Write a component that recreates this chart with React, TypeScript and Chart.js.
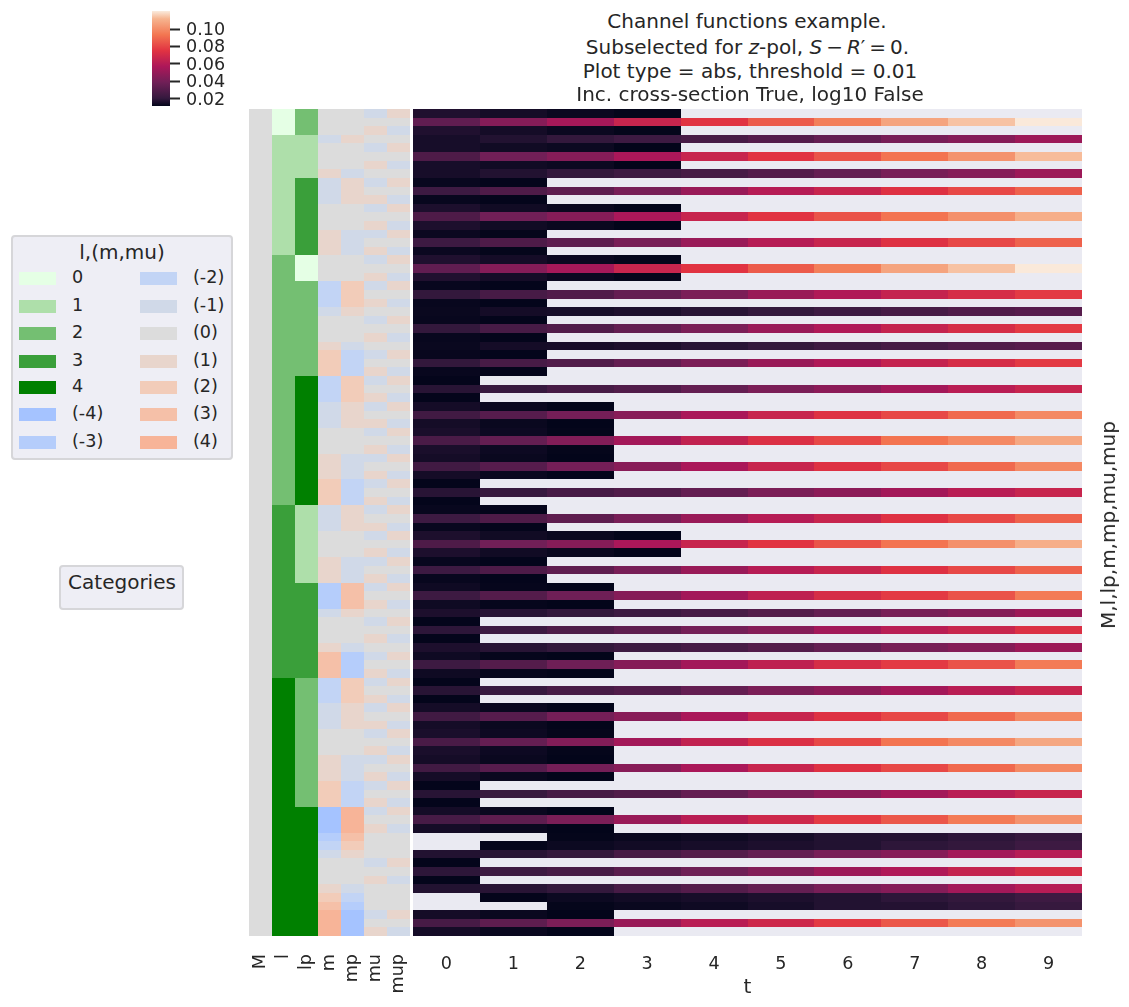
import React, { useEffect, useRef } from "react";
import { Chart, registerables } from "chart.js";

Chart.register(...registerables);

// ---------- data ----------
const tLabels = [0, 1, 2, 3, 4, 5, 6, 7, 8, 9];
const annotationLabels = ["M", "l", "lp", "m", "mp", "mu", "mup"];
const colorbarTicks = [0.02, 0.04, 0.06, 0.08, 0.1];
const titleLine1 = "Channel functions example.";
const titleLine3 = "Plot type = abs, threshold = 0.01";
const titleLine4 = "Inc. cross-section True, log10 False";
const rightLabel = "M,l,lp,m,mp,mu,mup";
const xLabel = "t";
const legendTitle = "l,(m,mu)";
const legendLabels1 = ["0", "1", "2", "3", "4", "(-4)", "(-3)"];
const legendLabels2 = ["(-2)", "(-1)", "(0)", "(1)", "(2)", "(3)", "(4)"];

const lColors = ["#e5ffe5", "#aedfaa", "#74bf72", "#3a9f3a", "#008000"];
const mColors = ["#a5c3ff", "#b5cdfb", "#c2d4f5", "#d0d9e8", "#dcdcdc", "#e8d5cc", "#f2ccb9", "#f5c0a8", "#f7b498"];
const legendColors1 = [...lColors, mColors[0], mColors[1]];
const legendColors2 = mColors.slice(2);

const vMin = 0.0113;
const vMax = 0.1208;
const rocketStops = [
  [0, 3, 5, 26],
  [0.083, 53, 25, 62],
  [0.25, 112, 31, 87],
  [0.417, 173, 23, 89],
  [0.583, 225, 51, 66],
  [0.75, 243, 118, 81],
  [0.917, 246, 180, 143],
  [1, 250, 235, 221],
];

const colM = [
  0,0,0,0,0,0,0,0,0,0,0,0,0,0,0,0,0,0,0,0,0,0,0,0,0,0,0,0,0,0,0,0,
  0,0,0,0,0,0,0,0,0,0,0,0,0,0,0,0,0,0,0,0,0,0,0,0,0,0,0,0,0,0,0,0,
  0,0,0,0,0,0,0,0,0,0,0,0,0,0,0,0,0,0,0,0,0,0,0,0,0,0,0,0,0,0,0,0,
];
const colL = [
  0,0,0,
  1,1,1,1,1,1,1,1,1,1,1,1,1,1,
  2,2,2,2,2,2,2,2,2,2,2,2,2,2,2,2,2,2,2,2,2,2,2,2,2,2,2,2,2,
  3,3,3,3,3,3,3,3,3,3,3,3,3,3,3,3,3,3,3,3,
  4,4,4,4,4,4,4,4,4,4,4,4,4,4,4,4,4,4,4,4,4,4,4,4,4,4,4,4,4,4,
];
const colLp = [
  2,2,2,
  1,1,1,1,1,
  3,3,3,3,3,3,3,3,3,
  0,0,0,
  2,2,2,2,2,2,2,2,2,2,2,
  4,4,4,4,4,4,4,4,4,4,4,4,4,4,4,
  1,1,1,1,1,1,1,1,1,
  3,3,3,3,3,3,3,3,3,3,3,
  2,2,2,2,2,2,2,2,2,2,2,2,2,2,2,
  4,4,4,4,4,4,4,4,4,4,4,4,4,4,4,
];
const colMm = [
  0,0,0,
  -1,0,0,0,1,
  -1,-1,-1,0,0,0,1,1,1,
  0,0,0,
  -2,-2,-2,-1,0,0,0,1,2,2,2,
  -2,-2,-2,-1,-1,-1,0,0,0,1,1,1,2,2,2,
  -1,-1,-1,0,0,0,1,1,1,
  -3,-3,-3,-1,0,0,0,1,3,3,3,
  -2,-2,-2,-1,-1,-1,0,0,0,1,1,1,2,2,2,
  -4,-4,-4,-3,-2,-1,0,0,0,1,2,3,4,4,4,
];
const colMp = [
  0,0,0,
  1,0,0,0,-1,
  1,1,1,0,0,0,-1,-1,-1,
  0,0,0,
  2,2,2,1,0,0,0,-1,-2,-2,-2,
  2,2,2,1,1,1,0,0,0,-1,-1,-1,-2,-2,-2,
  1,1,1,0,0,0,-1,-1,-1,
  3,3,3,1,0,0,0,-1,-3,-3,-3,
  2,2,2,1,1,1,0,0,0,-1,-1,-1,-2,-2,-2,
  4,4,4,3,2,1,0,0,0,-1,-2,-3,-4,-4,-4,
];
const colMu = [
  -1,0,1,
  0,-1,0,1,0,
  -1,0,1,-1,0,1,-1,0,1,
  -1,0,1,
  -1,0,1,0,-1,0,1,0,-1,0,1,
  -1,0,1,-1,0,1,-1,0,1,-1,0,1,-1,0,1,
  -1,0,1,-1,0,1,-1,0,1,
  -1,0,1,0,-1,0,1,0,-1,0,1,
  -1,0,1,-1,0,1,-1,0,1,-1,0,1,-1,0,1,
  -1,0,1,0,0,0,-1,0,1,0,0,0,-1,0,1,
];
const colMup = [
  1,0,-1,
  0,1,0,-1,0,
  1,0,-1,1,0,-1,1,0,-1,
  1,0,-1,
  1,0,-1,0,1,0,-1,0,1,0,-1,
  1,0,-1,1,0,-1,1,0,-1,1,0,-1,1,0,-1,
  1,0,-1,1,0,-1,1,0,-1,
  1,0,-1,0,1,0,-1,0,1,0,-1,
  1,0,-1,1,0,-1,1,0,-1,1,0,-1,1,0,-1,
  1,0,-1,0,0,0,1,0,-1,0,0,0,1,0,-1,
];

// value shapes, one per kind of row
const A = [0.034,0.045,0.055,0.066,0.075,0.086,0.096,0.107,0.114,0.1205];
const B = [0.028,0.039,0.045,0.056,0.066,0.075,0.084,0.093,0.102,0.113];
const B2 = [0.028,0.039,0.045,0.056,0.066,0.075,0.084,0.093,0.101,0.110];
const C = [0.015,0.017,0.020,0.023,0.026,0.030,0.035,0.041,0.045,0.052];
const D = [0.023,0.028,0.033,0.041,0.051,0.060,0.066,0.074,0.081,0.088];
const E = [0.020,0.026,0.029,0.035,0.042,0.051,0.058,0.065,0.071,0.077];
const F = [0.0125,0.0146,0.015,0.016,0.018,0.020,0.023,0.026,0.029,0.031];
const G = [0.018,0.021,0.026,0.029,0.035,0.042,0.047,0.054,0.061,0.066];
const H = [0.024,0.031,0.040,0.046,0.056,0.066,0.074,0.081,0.090,0.099];
const I = [0.027,0.035,0.044,0.054,0.064,0.073,0.081,0.093,0.099,0.108];
const J = [0.023,0.030,0.038,0.045,0.054,0.063,0.071,0.077,0.084,0.095];
const K = [0.016,0.018,0.020,0.023,0.026,0.030,0.035,0.041,0.045,0.052];
const L = [0.019,0.023,0.028,0.033,0.040,0.045,0.054,0.061,0.066,0.073];
const M = [0.026,0.033,0.042,0.051,0.061,0.068,0.077,0.085,0.095,0.102];
const N = [null,null,0.0116,0.0126,0.0135,0.015,0.017,0.0173,0.019,0.0206];
const O = [null,0.0115,0.013,0.014,0.015,0.016,0.017,0.019,0.020,0.023];
const P = [0.017,0.018,0.020,0.026,0.030,0.035,0.041,0.045,0.054,0.060];
const Q = [0.019,0.023,0.026,0.032,0.038,0.044,0.052,0.058,0.065,0.071];
const s4a = [0.0165,0.0145,0.0128,0.0116];
const s4b = [0.015,0.0138,0.013,0.0113];
const s4c = [0.016,0.0138,0.0125,0.0113];
const s3a = [0.0145,0.0126,0.0113];
const s3b = [0.0155,0.0132,0.0116];
const s3c = [0.0135,0.0119,0.0113];
const s2a = [0.0122,0.0115];
const s2b = [0.0128,0.0116];
const s1 = [0.0115];

const rowValues = [
  s4a,A,s4a,C,s4b,B,s4b,C,s2a,D,s2a,s4c,B2,s4c,s2b,D,s2b,
  s4a,A,s4a,s2a,E,s2a,F,s2a,E,s2a,F,s2a,E,s2a,
  s1,G,s1,s3a,H,s3a,s3b,I,s3b,s3a,H,s3a,s1,G,s1,
  s2a,D,s2a,s4c,B2,s4c,s2a,D,s2a,
  s3c,J,s3c,K,s1,L,s1,K,s3c,J,s3c,
  s1,G,s1,s3a,H,s3a,s3b,I,s3b,s3a,H,s3a,s1,G,s1,
  s3a,M,s3a,N,O,P,s1,Q,s1,P,O,N,s3a,M,s3a,
];

// ---------- helpers ----------
const FONT = "'DejaVu Sans'";
const TEXT = "#262626";
const TICK_SIZE = 17.6;
const LABEL_SIZE = 20;
const rowNames = rowValues.map((_, i) => String(i));

function rocket(v: number) {
  const f = Math.min(1, Math.max(0, (v - vMin) / (vMax - vMin)));
  for (let i = 1; i < rocketStops.length; i++) {
    const a = rocketStops[i - 1];
    const b = rocketStops[i];
    if (f <= b[0]) {
      const u = (f - a[0]) / (b[0] - a[0]);
      return `rgb(${Math.round(a[1] + (b[1] - a[1]) * u)},${Math.round(a[2] + (b[2] - a[2]) * u)},${Math.round(a[3] + (b[3] - a[3]) * u)})`;
    }
  }
  return "rgb(250,235,221)";
}

const snap = (v: number) => Math.round(Math.round(v * 1000) / 1000);

const snapPlugin = {
  id: "snap",
  afterDatasetsUpdate(chart: any) {
    chart.getSortedVisibleDatasetMetas().forEach((meta: any) => {
      meta.data.forEach((el: any) => {
        if (el.skip || !isFinite(el.x) || !isFinite(el.y)) return;
        const top = snap(el.y - el.height / 2);
        const bottom = snap(el.y + el.height / 2);
        el.y = (top + bottom) / 2;
        el.height = bottom - top;
        el.x = snap(el.x);
        el.base = snap(el.base);
      });
    });
  },
};

const backdropPlugin = {
  id: "backdrop",
  beforeDatasetsDraw(chart: any, _a: any, opts: any) {
    if (!opts.color) return;
    const { left, top, width, height } = chart.chartArea;
    chart.ctx.save();
    chart.ctx.fillStyle = opts.color;
    chart.ctx.fillRect(left, top, width, height);
    chart.ctx.restore();
  },
};

const tickFont = { family: FONT, size: TICK_SIZE };

function cellOptions(xMin: number, xMax: number, xTicks: number[], pad: any, axisH: number, extraX: any, color: string) {
  return {
    indexAxis: "y" as const,
    responsive: false,
    animation: false as const,
    events: [],
    layout: { padding: pad },
    plugins: { legend: { display: false }, tooltip: { enabled: false }, backdrop: { color } },
    scales: {
      y: { type: "category" as const, labels: rowNames, offset: true, display: false, grid: { display: false } },
      x: {
        type: "linear" as const,
        min: xMin,
        max: xMax,
        position: "bottom" as const,
        grid: { display: false },
        border: { display: false },
        afterBuildTicks: (s: any) => {
          s.ticks = xTicks.map((v) => ({ value: v }));
        },
        afterFit: (s: any) => {
          s.height = axisH;
        },
        ...extraX,
      },
    },
  };
}

function useChart(build: (c: HTMLCanvasElement) => Chart) {
  const ref = useRef<HTMLCanvasElement>(null);
  useEffect(() => {
    const chart = build(ref.current!);
    return () => chart.destroy();
  }, []);
  return ref;
}

function Heatmap() {
  const ref = useChart((canvas) =>
    new Chart(canvas, {
      type: "bar",
      plugins: [snapPlugin, backdropPlugin],
      data: {
        labels: rowNames,
        datasets: tLabels.map((t, k) => ({
          label: String(t),
          data: rowValues.map((r) => (r[k] == null ? null : [t - 0.5, t + 0.5])),
          backgroundColor: rowValues.map((r) => (r[k] == null ? "rgba(0,0,0,0)" : rocket(r[k] as number))),
          borderWidth: 0,
          inflateAmount: 0,
          grouped: false,
          barPercentage: 1,
          categoryPercentage: 1,
        })) as any,
      },
      options: cellOptions(-0.5, 9.5, tLabels, { left: 10, top: 9, right: 21, bottom: 0 }, 71, {
        ticks: { font: tickFont, color: TEXT, padding: 10, autoSkip: false, maxRotation: 0, callback: (v: any) => String(v) },
        title: { display: true, text: xLabel, color: TEXT, font: { family: FONT, size: LABEL_SIZE }, padding: { top: 0, bottom: 7 } },
      }, "#eaeaf2") as any,
    })
  );
  return <canvas ref={ref} width={700} height={907} style={{ position: "absolute", left: 403, top: 100 }} />;
}

function Annotation() {
  const columns = [colM, colL, colLp, colMm, colMp, colMu, colMup];
  const isL = [false, true, true, false, false, false, false];
  const ticks = annotationLabels.map((_, i) => i);
  const ref = useChart((canvas) =>
    new Chart(canvas, {
      type: "bar",
      plugins: [snapPlugin],
      data: {
        labels: rowNames,
        datasets: columns.map((col, k) => ({
          label: annotationLabels[k],
          data: col.map(() => [k - 0.5, k + 0.5]),
          backgroundColor: col.map((v) => (isL[k] ? lColors[v] : mColors[v + 4])),
          borderWidth: 0,
          inflateAmount: 0,
          grouped: false,
          barPercentage: 1,
          categoryPercentage: 1,
        })) as any,
      },
      options: cellOptions(-0.5, 6.5, ticks, { left: 9, top: 9, right: 30, bottom: 0 }, 71, {
        ticks: {
          font: tickFont,
          color: TEXT,
          padding: 10,
          autoSkip: false,
          minRotation: 90,
          maxRotation: 90,
          callback: (v: any) => annotationLabels[v],
        },
      }, "") as any,
    })
  );
  return <canvas ref={ref} width={200} height={907} style={{ position: "absolute", left: 240, top: 100 }} />;
}

function Colorbar() {
  const ref = useChart((canvas) =>
    new Chart(canvas, {
      type: "bar",
      data: {
        labels: ["colorbar"],
        datasets: [
          {
            data: [[vMin, vMax]],
            borderWidth: 0,
            inflateAmount: 0,
            barPercentage: 1,
            categoryPercentage: 1,
            backgroundColor: (ctx: any) => {
              const area = ctx.chart.chartArea;
              if (!area) return "#000";
              const g = ctx.chart.ctx.createLinearGradient(0, area.bottom, 0, area.top);
              rocketStops.forEach((s) => g.addColorStop(s[0], `rgb(${s[1]},${s[2]},${s[3]})`));
              return g;
            },
          },
        ] as any,
      },
      options: {
        responsive: false,
        animation: false,
        events: [],
        layout: { padding: { left: 12, top: 31, right: 0, bottom: 24 } },
        plugins: { legend: { display: false }, tooltip: { enabled: false } },
        scales: {
          x: { display: false, offset: true },
          y: {
            position: "right",
            min: vMin,
            max: vMax,
            border: { display: false },
            grid: { drawOnChartArea: false, drawTicks: true, tickLength: 10, tickWidth: 2, tickColor: TEXT },
            afterBuildTicks: (s: any) => {
              s.ticks = colorbarTicks.map((v) => ({ value: v }));
            },
            afterFit: (s: any) => {
              s.width = 90;
            },
            ticks: { font: tickFont, color: TEXT, padding: 6, labelOffset: 1.5, autoSkip: false, callback: (v: any) => Number(v).toFixed(2) },
          },
        },
      } as any,
    })
  );
  return <canvas ref={ref} width={120} height={150} style={{ position: "absolute", left: 140, top: -20 }} />;
}

const textBase: React.CSSProperties = { position: "absolute", fontFamily: FONT, color: TEXT, whiteSpace: "nowrap", lineHeight: 1 };

function Centered({ x, y, size, children }: any) {
  return <div style={{ ...textBase, left: x, top: y, fontSize: size, transform: "translate(-50%,-50%)" }}>{children}</div>;
}

function Legend() {
  const entry = (label: string, color: string, i: number, px: number, tx: number) => {
    const y = [278, 306, 333, 361, 387, 414, 442][i];
    return (
      <React.Fragment key={label}>
        <div style={{ position: "absolute", left: px, top: y - 6.5, width: 37, height: 13, background: color }} />
        <div style={{ ...textBase, left: tx, top: y, fontSize: TICK_SIZE, transform: "translateY(-50%)" }}>{label}</div>
      </React.Fragment>
    );
  };
  const box: React.CSSProperties = {
    position: "absolute",
    background: "#eeeef5",
    border: "2px solid #d6d6d9",
    borderRadius: 4,
    boxSizing: "border-box",
  };
  return (
    <>
      <div style={{ ...box, left: 11, top: 235, width: 222, height: 225 }} />
      <Centered x={122} y={252} size={LABEL_SIZE}>{legendTitle}</Centered>
      {legendLabels1.map((l, i) => entry(l, legendColors1[i], i, 19, 72))}
      {legendLabels2.map((l, i) => entry(l, legendColors2[i], i, 140, 193))}
      <div style={{ ...box, left: 59, top: 565, width: 125, height: 45 }} />
      <Centered x={122} y={582} size={LABEL_SIZE}>Categories</Centered>
    </>
  );
}

function Title() {
  return (
    <>
      <Centered x={747} y={21} size={LABEL_SIZE}>{titleLine1}</Centered>
      <Centered x={747.5} y={47} size={LABEL_SIZE}>
        Subselected for <i>z</i>-pol, <i>S</i>{"\u2009\u2212\u2009"}<i>R</i>{"\u2032\u2009=\u20090."}
      </Centered>
      <Centered x={750} y={71} size={LABEL_SIZE}>{titleLine3}</Centered>
      <Centered x={750} y={94} size={LABEL_SIZE}>{titleLine4}</Centered>
      <div style={{ ...textBase, left: 1108, top: 525, fontSize: LABEL_SIZE, transform: "translate(-50%,-50%) rotate(-90deg)" }}>
        {rightLabel}
      </div>
    </>
  );
}

export default function App() {
  return (
    <div style={{ position: "absolute", left: 0, top: 0, width: 1129, height: 1007, overflow: "hidden", background: "#fff" }}>
      <Colorbar />
      <Annotation />
      <Heatmap />
      <Legend />
      <Title />
    </div>
  );
}
